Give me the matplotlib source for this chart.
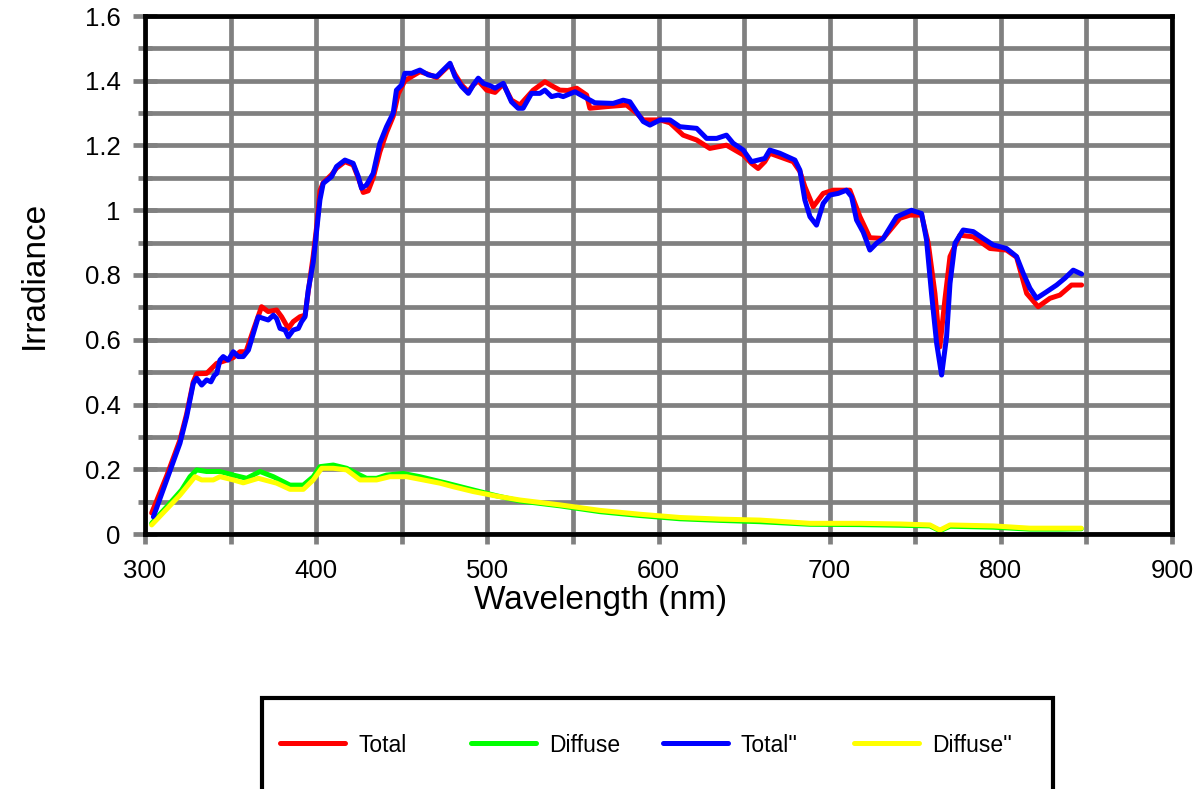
import matplotlib
matplotlib.use("Agg")
import matplotlib.pyplot as plt
from matplotlib.patches import Rectangle
from matplotlib.ticker import MultipleLocator, FuncFormatter

plt.rcParams['font.family'] = ['Liberation Sans', 'DejaVu Sans']

# ---- spectra (wavelength in nm, irradiance) ----
wl_total = [303.9, 312.7, 320.4, 324.3, 328.2, 330.2, 336.0, 341.9, 347.7, 351.6,
            355.5, 359.0, 363.3, 368.1, 372.0, 376.9, 379.8, 383.7, 386.6, 390.5,
            393.5, 395.4, 398.3, 400.3, 402.2, 404.1, 409.0, 411.9, 416.8, 421.6,
            424.6, 427.5, 430.4, 433.3, 437.2, 441.1, 445.0, 448.0, 451.8, 455.8,
            460.6, 465.5, 470.4, 474.2, 478.2, 481.1, 485.0, 488.9, 491.8, 494.7,
            499.6, 504.5, 509.3, 514.1, 519.0, 526.8, 533.6, 537.5, 542.4, 547.0,
            552.2, 558.0, 559.9, 569.6, 581.3, 587.2, 591.1, 600.9, 606.7, 614.4,
            622.3, 630.0, 639.7, 649.5, 654.3, 658.2, 662.1, 665.0, 678.7, 682.6,
            685.5, 690.4, 696.2, 702.1, 711.8, 717.7, 723.5, 731.3, 741.0, 746.9,
            753.7, 757.6, 761.5, 764.4, 767.3, 770.3, 776.1, 783.9, 793.6, 803.3,
            809.2, 815.1, 821.8, 828.7, 834.5, 841.3, 847.2]
total = [0.065, 0.180, 0.290, 0.370, 0.470, 0.495, 0.496, 0.527, 0.537, 0.545,
         0.563, 0.563, 0.630, 0.702, 0.687, 0.692, 0.671, 0.635, 0.656, 0.671,
         0.676, 0.750, 0.860, 0.950, 1.060, 1.085, 1.110, 1.130, 1.150, 1.140,
         1.100, 1.055, 1.060, 1.100, 1.180, 1.240, 1.290, 1.360, 1.400, 1.413,
         1.428, 1.420, 1.410, 1.430, 1.450, 1.420, 1.387, 1.366, 1.387, 1.400,
         1.371, 1.364, 1.390, 1.340, 1.325, 1.371, 1.397, 1.385, 1.371, 1.370,
         1.377, 1.356, 1.315, 1.320, 1.325, 1.300, 1.279, 1.279, 1.270, 1.232,
         1.217, 1.191, 1.201, 1.171, 1.145, 1.129, 1.150, 1.176, 1.150, 1.120,
         1.073, 1.011, 1.052, 1.062, 1.062, 0.980, 0.915, 0.913, 0.975, 0.985,
         0.985, 0.898, 0.743, 0.578, 0.723, 0.857, 0.923, 0.918, 0.882, 0.877,
         0.855, 0.743, 0.702, 0.728, 0.738, 0.769, 0.769]

wl_diffuse = [303.9, 312.7, 321.4, 326.3, 330.2, 336.0, 343.8, 351.6, 359.4, 367.2,
              375.0, 384.7, 392.5, 398.3, 402.2, 410.0, 417.8, 423.6, 429.4, 435.3,
              441.1, 450.8, 460.6, 468.4, 476.2, 491.8, 505.4, 519.1, 542.4, 565.8,
              589.2, 612.6, 636.0, 659.3, 688.5, 717.7, 741.1, 758.6, 764.4, 770.3,
              795.6, 817.0, 834.5, 847.0]
diffuse = [0.033, 0.084, 0.136, 0.177, 0.198, 0.193, 0.193, 0.182, 0.172, 0.193,
           0.177, 0.151, 0.151, 0.177, 0.208, 0.213, 0.203, 0.187, 0.172, 0.172,
           0.182, 0.187, 0.177, 0.167, 0.157, 0.136, 0.118, 0.102, 0.087, 0.069,
           0.057, 0.047, 0.042, 0.038, 0.030, 0.029, 0.027, 0.025, 0.010, 0.024,
           0.021, 0.015, 0.015, 0.016]

wl_total2 = [304.9, 312.7, 320.4, 324.3, 328.2, 330.2, 333.1, 336.0, 338.5, 340.5,
             341.9, 343.8, 345.7, 348.6, 351.6, 354.5, 357.4, 360.4, 363.3, 366.2,
             369.1, 372.0, 375.0, 376.9, 378.9, 381.8, 383.7, 386.6, 389.6, 391.5,
             393.5, 395.4, 398.3, 400.3, 402.2, 404.1, 409.0, 411.9, 416.8, 421.6,
             424.6, 426.5, 429.4, 433.3, 437.2, 441.1, 445.0, 446.9, 449.9, 451.8,
             455.8, 460.6, 465.5, 470.4, 474.2, 478.2, 481.1, 485.0, 488.9, 491.8,
             494.7, 497.6, 501.5, 504.5, 509.3, 514.1, 518.0, 520.9, 525.8, 530.7,
             533.6, 537.5, 541.4, 544.3, 551.2, 558.0, 562.8, 573.5, 579.4, 583.3,
             587.2, 591.1, 595.0, 600.9, 606.7, 612.5, 622.3, 628.1, 634.0, 639.7,
             643.6, 649.5, 654.3, 658.2, 662.1, 665.0, 670.9, 679.7, 682.6, 685.5,
             688.5, 692.3, 696.2, 700.1, 705.0, 709.8, 712.8, 715.7, 719.6, 723.5,
             727.4, 731.3, 739.1, 747.8, 753.7, 756.6, 759.5, 762.5, 765.4, 768.3,
             770.3, 773.2, 778.0, 783.9, 789.7, 795.5, 803.3, 809.2, 813.1, 817.0,
             820.9, 826.7, 832.6, 837.4, 842.3, 847.2]
total2 = [0.053, 0.167, 0.280, 0.362, 0.465, 0.481, 0.460, 0.476, 0.470, 0.490,
          0.496, 0.537, 0.548, 0.537, 0.563, 0.548, 0.548, 0.568, 0.620, 0.671,
          0.666, 0.661, 0.676, 0.665, 0.635, 0.630, 0.609, 0.630, 0.635, 0.656,
          0.671, 0.754, 0.840, 0.939, 1.032, 1.083, 1.104, 1.135, 1.155, 1.145,
          1.104, 1.068, 1.078, 1.114, 1.207, 1.258, 1.300, 1.371, 1.387, 1.423,
          1.423, 1.433, 1.418, 1.413, 1.433, 1.454, 1.413, 1.382, 1.361, 1.387,
          1.408, 1.392, 1.385, 1.377, 1.392, 1.335, 1.315, 1.315, 1.361, 1.361,
          1.371, 1.351, 1.356, 1.351, 1.366, 1.346, 1.332, 1.330, 1.340, 1.335,
          1.304, 1.274, 1.263, 1.279, 1.279, 1.258, 1.253, 1.222, 1.222, 1.232,
          1.207, 1.186, 1.150, 1.155, 1.160, 1.186, 1.176, 1.155, 1.124, 1.032,
          0.980, 0.954, 1.021, 1.047, 1.052, 1.062, 1.042, 0.970, 0.932, 0.877,
          0.898, 0.913, 0.980, 1.000, 0.990, 0.908, 0.743, 0.589, 0.491, 0.609,
          0.774, 0.898, 0.939, 0.934, 0.913, 0.893, 0.882, 0.857, 0.805, 0.759,
          0.728, 0.748, 0.769, 0.790, 0.815, 0.803]

wl_diffuse2 = [303.9, 312.7, 320.4, 329.2, 333.1, 339.9, 343.8, 351.6, 357.4, 366.2,
               376.9, 384.7, 392.5, 398.3, 403.2, 410.0, 417.8, 425.6, 435.3, 443.1,
               452.8, 460.6, 472.3, 480.1, 491.8, 505.4, 519.1, 542.4, 565.8, 589.2,
               612.6, 636.0, 659.3, 688.5, 717.7, 741.1, 758.6, 764.4, 770.3, 795.6,
               817.0, 834.5, 847.0]
diffuse2 = [0.028, 0.077, 0.120, 0.177, 0.167, 0.167, 0.177, 0.167, 0.158, 0.172,
            0.157, 0.138, 0.138, 0.167, 0.203, 0.203, 0.198, 0.167, 0.167, 0.177,
            0.177, 0.169, 0.157, 0.146, 0.131, 0.117, 0.105, 0.090, 0.073, 0.061,
            0.051, 0.046, 0.043, 0.033, 0.033, 0.031, 0.028, 0.012, 0.028, 0.025,
            0.018, 0.018, 0.018]

series = [
    ("Total", wl_total, total, "#ff0000"),
    ("Diffuse", wl_diffuse, diffuse, "#00ff00"),
    ("Total''", wl_total2, total2, "#0000ff"),
    ("Diffuse''", wl_diffuse2, diffuse2, "#ffff00"),
]

GRID = "#808080"
W, H = 1200, 789

fig = plt.figure(figsize=(12, 7.89), dpi=100)
ax = fig.add_axes([145 / W, 1 - 534 / H, (1172 - 145) / W, (534 - 16) / H])

handles = []
for name, x, y, c in series:
    ln, = ax.plot(x, y, color=c, lw=3.6, label=name,
                  solid_capstyle="round", solid_joinstyle="round", zorder=3)
    handles.append(ln)

ax.set_xlim(300, 900)
ax.set_ylim(0, 1.6)
ax.xaxis.set_major_locator(MultipleLocator(100))
ax.xaxis.set_minor_locator(MultipleLocator(50))
ax.yaxis.set_major_locator(MultipleLocator(0.2))
ax.yaxis.set_minor_locator(MultipleLocator(0.1))
ax.yaxis.set_major_formatter(FuncFormatter(lambda v, p: f"{v:g}"))

ax.grid(True, which="both", color=GRID, lw=3.4, zorder=1)
ax.set_axisbelow(True)

ax.tick_params(axis="x", which="both", direction="out", length=7, width=3.4,
               color=GRID, labelsize=18.5, pad=11)
ax.tick_params(axis="y", which="major", direction="inout", length=17, width=3.4,
               color=GRID, labelsize=18.5, pad=9)
ax.tick_params(axis="y", which="minor", direction="inout", length=10, width=3.4,
               color=GRID)

for s in ax.spines.values():
    s.set_color("black")
    s.set_linewidth(3.4)
    s.set_zorder(4)

ax.set_xlabel("Wavelength (nm)", fontsize=24)
ax.xaxis.set_label_coords(0.4435, -0.098)
ax.set_ylabel("Irradiance", fontsize=24, labelpad=25)

# legend box (runs off the bottom edge of the figure)
fig.patches.append(Rectangle((262 / W, -4 / H), (1053 - 262) / W, (789 + 4 - 698) / H,
                             transform=fig.transFigure, facecolor="white",
                             edgecolor="black", lw=3, zorder=0))

# one entry per slot, evenly pitched across the box
slot_left = 280
slot_pitch = 191.3
for i, h in enumerate(handles):
    leg = fig.legend(handles=[h], loc="center left",
                     bbox_to_anchor=((slot_left + slot_pitch * i) / W, 1 - 745 / H),
                     fontsize=16.5, handlelength=2.84, handletextpad=0.57,
                     borderpad=0, borderaxespad=0, frameon=False)
    for lh in leg.get_lines():
        lh.set_linewidth(3.6)

fig.savefig("out.png", dpi=100)
